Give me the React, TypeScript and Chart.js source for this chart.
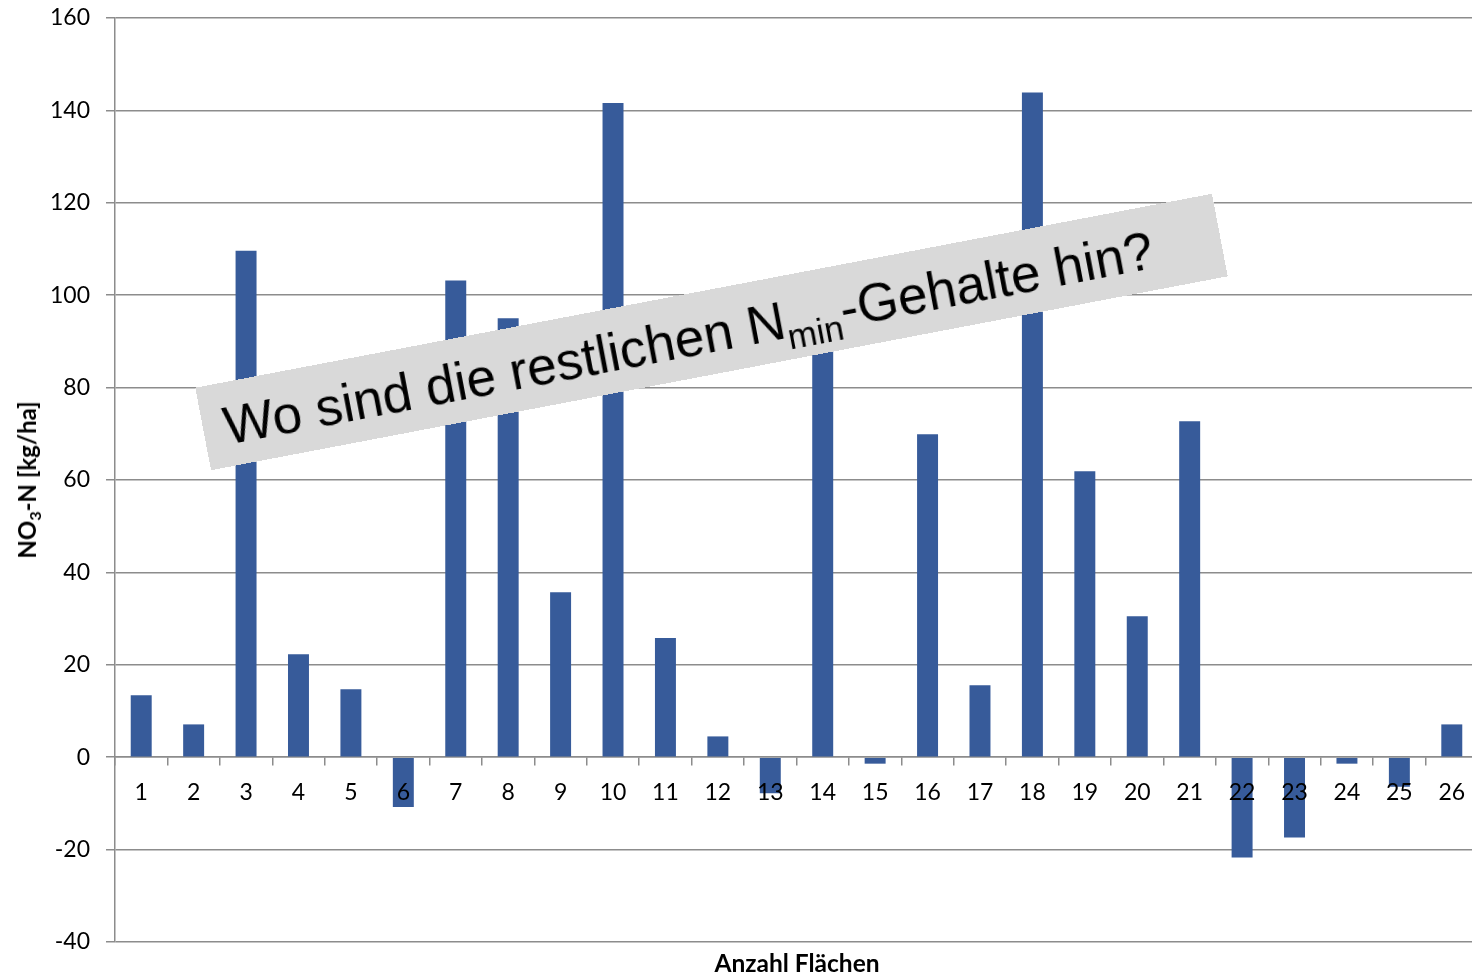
import React, { useEffect, useRef } from "react";
import { Chart, registerables } from "chart.js";

Chart.register(...registerables);

// ---- data ----
const categories = [
  "1", "2", "3", "4", "5", "6", "7", "8", "9", "10", "11", "12", "13",
  "14", "15", "16", "17", "18", "19", "20", "21", "22", "23", "24", "25", "26",
];
const no3Values = [
  13.4, 7.1, 109.6, 22.3, 14.7, -10.8, 103.2, 95.0, 35.7, 141.6, 25.8, 4.5, -7.8,
  92.0, -1.4, 69.9, 15.6, 143.9, 61.9, 30.5, 72.7, -21.7, -17.4, -1.4, -6.4, 7.1,
];
const yMin = -40;
const yMax = 160;
const yStep = 20;
const yTitleMain = "NO";
const yTitleSub = "3";
const yTitleRest = "-N [kg/ha]";
const xTitle = "Anzahl Flächen";
const bannerBefore = "Wo sind die restlichen N";
const bannerSub = "min";
const bannerAfter = "-Gehalte hin?";

const BAR_COLOR = "rgb(55,91,154)";
const GRID_COLOR = "#8c8c8c";
const TICK_FONT = { family: "Lato", size: 23 };

export default function App() {
  const canvasRef = useRef<HTMLCanvasElement | null>(null);

  useEffect(() => {
    if (!canvasRef.current) return;
    const chart = new Chart(canvasRef.current, {
      type: "bar",
      data: {
        labels: categories,
        datasets: [
          {
            data: no3Values,
            backgroundColor: BAR_COLOR,
            borderWidth: 0,
            barPercentage: 0.4,
            categoryPercentage: 1,
          },
        ],
      },
      options: {
        animation: false,
        responsive: false,
        maintainAspectRatio: false,
        layout: { padding: { top: 18, bottom: 33, left: 0, right: 0 } },
        plugins: {
          legend: { display: false },
          tooltip: { enabled: false },
        },
        scales: {
          x: {
            axis: "x",
            position: { y: 0 },
            grid: {
              display: true,
              drawOnChartArea: false,
              drawTicks: true,
              tickLength: 8,
              color: GRID_COLOR,
              lineWidth: 1.5,
              offset: true,
            },
            border: { display: true, color: GRID_COLOR, width: 1.5 },
            ticks: {
              z: 1,
              color: "#000",
              font: TICK_FONT,
              padding: 14,
              maxRotation: 0,
              autoSkip: false,
            },
            afterFit: (s: any) => {
              s.height = 0;
              s.paddingLeft = 0;
              s.paddingRight = 0;
            },
          },
          y: {
            min: yMin,
            max: yMax,
            ticks: {
              stepSize: yStep,
              color: "#000",
              font: TICK_FONT,
              padding: 16,
            },
            grid: { color: GRID_COLOR, lineWidth: 1.5, tickLength: 9 },
            border: { color: GRID_COLOR, width: 1.5 },
            afterFit: (s: any) => {
              s.width = 115;
              s.paddingTop = 0;
              s.paddingBottom = 0;
            },
          },
        },
      },
    } as any);
    return () => chart.destroy();
  }, []);

  return (
    <div
      style={{
        position: "fixed",
        left: 0,
        top: 0,
        width: 1472,
        height: 975,
        overflow: "hidden",
        background: "#fff",
      }}
    >
      <canvas
        ref={canvasRef}
        width={1478}
        height={975}
        style={{ position: "absolute", left: 0, top: 0, width: 1478, height: 975 }}
      />
      {/* y axis title */}
      <div
        style={{
          position: "absolute",
          left: 27,
          top: 480,
          transform: "translate(-50%, -50%) rotate(-90deg)",
          whiteSpace: "nowrap",
          fontFamily: "Lato",
          fontWeight: 700,
          fontSize: 24,
          color: "#000",
          lineHeight: 1,
        }}
      >
        {yTitleMain}
        <span style={{ fontSize: 16, position: "relative", top: 5 }}>{yTitleSub}</span>
        {yTitleRest}
      </div>
      {/* x axis title */}
      <div
        style={{
          position: "absolute",
          left: 797,
          top: 963,
          transform: "translate(-50%, -50%)",
          whiteSpace: "nowrap",
          fontFamily: "Lato",
          fontWeight: 700,
          fontSize: 24.5,
          color: "#000",
          lineHeight: 1,
        }}
      >
        {xTitle}
      </div>
      {/* banner */}
      <div
        style={{
          position: "absolute",
          left: 711 - 1035 / 2,
          top: 331.5 - 84 / 2,
          width: 1035,
          height: 84,
          background: "#d9d9d9",
          transform: "rotate(-10.8deg)",
          transformOrigin: "50% 50%",
        }}
      >
        <div
          style={{
            position: "absolute",
            left: 21,
            top: 16.6,
            whiteSpace: "nowrap",
            fontFamily: "'Liberation Sans', Arial, sans-serif",
            fontSize: 53,
            lineHeight: 1,
            color: "#000",
          }}
        >
          {bannerBefore}
          <span style={{ fontSize: 35, position: "relative", top: 12 }}>{bannerSub}</span>
          {bannerAfter}
        </div>
      </div>
    </div>
  );
}
